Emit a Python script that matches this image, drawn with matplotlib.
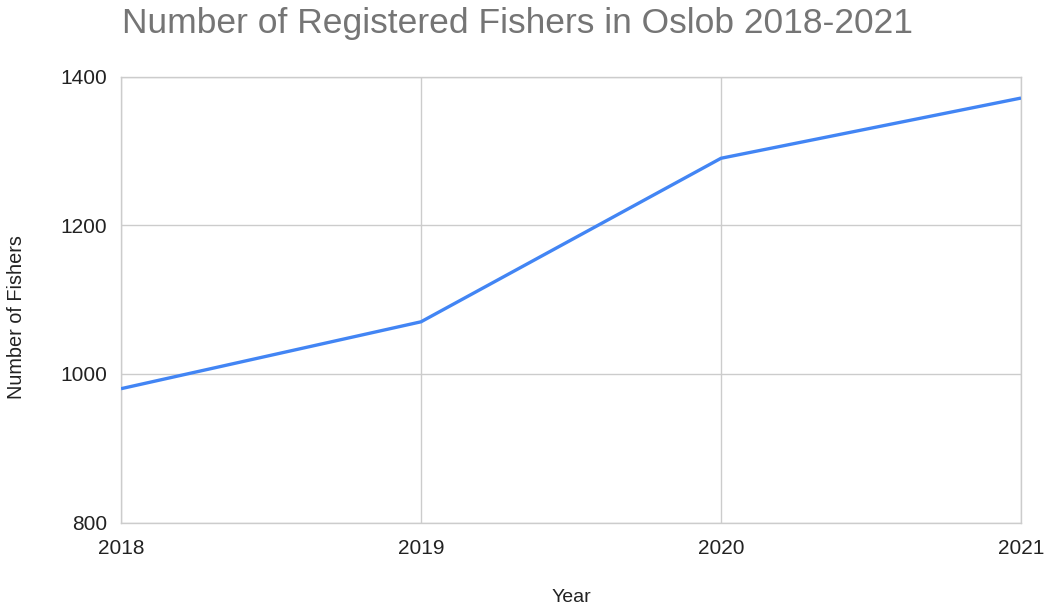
import matplotlib
matplotlib.use('Agg')
import matplotlib.pyplot as plt

# Data
years = [2018, 2019, 2020, 2021]
fishers = [980, 1070, 1290, 1371]
y_ticks = [800, 1000, 1200, 1400]

plt.rcParams['font.family'] = ['Liberation Sans', 'DejaVu Sans']

W, H = 1047, 609
fig = plt.figure(figsize=(W / 100, H / 100), dpi=100)
ax = fig.add_axes([121 / W, 1 - 522.5 / H, 900 / W, 446 / H])

ax.plot(years, fishers, color='#4285F4', linewidth=2.4, solid_capstyle='butt', zorder=3)

ax.set_xlim(years[0], years[-1])
ax.set_ylim(y_ticks[0], y_ticks[-1])
ax.set_xticks(years)
ax.set_yticks(y_ticks)
ax.set_xticklabels([str(y) for y in years])

ax.grid(True, color='#cccccc', linewidth=1.0)
for s in ax.spines.values():
    s.set_color('#cccccc')
    s.set_linewidth(1.0)
ax.tick_params(length=0, labelsize=15, labelcolor='#222222')
ax.tick_params(axis='x', pad=12)
ax.tick_params(axis='y', pad=10)

fig.text(517 / W, 1 - 23 / H, 'Number of Registered Fishers in Oslob 2018-2021',
         ha='center', va='center', fontsize=25.5, color='#757575')
fig.text(571 / W, 1 - 597 / H, 'Year', ha='center', va='center',
         fontsize=14, color='#222222')
fig.text(17 / W, 1 - 317 / H, 'Number of Fishers', ha='center', va='center',
         rotation=90, fontsize=14.3, color='#222222')

fig.savefig('out.png', dpi=100)
